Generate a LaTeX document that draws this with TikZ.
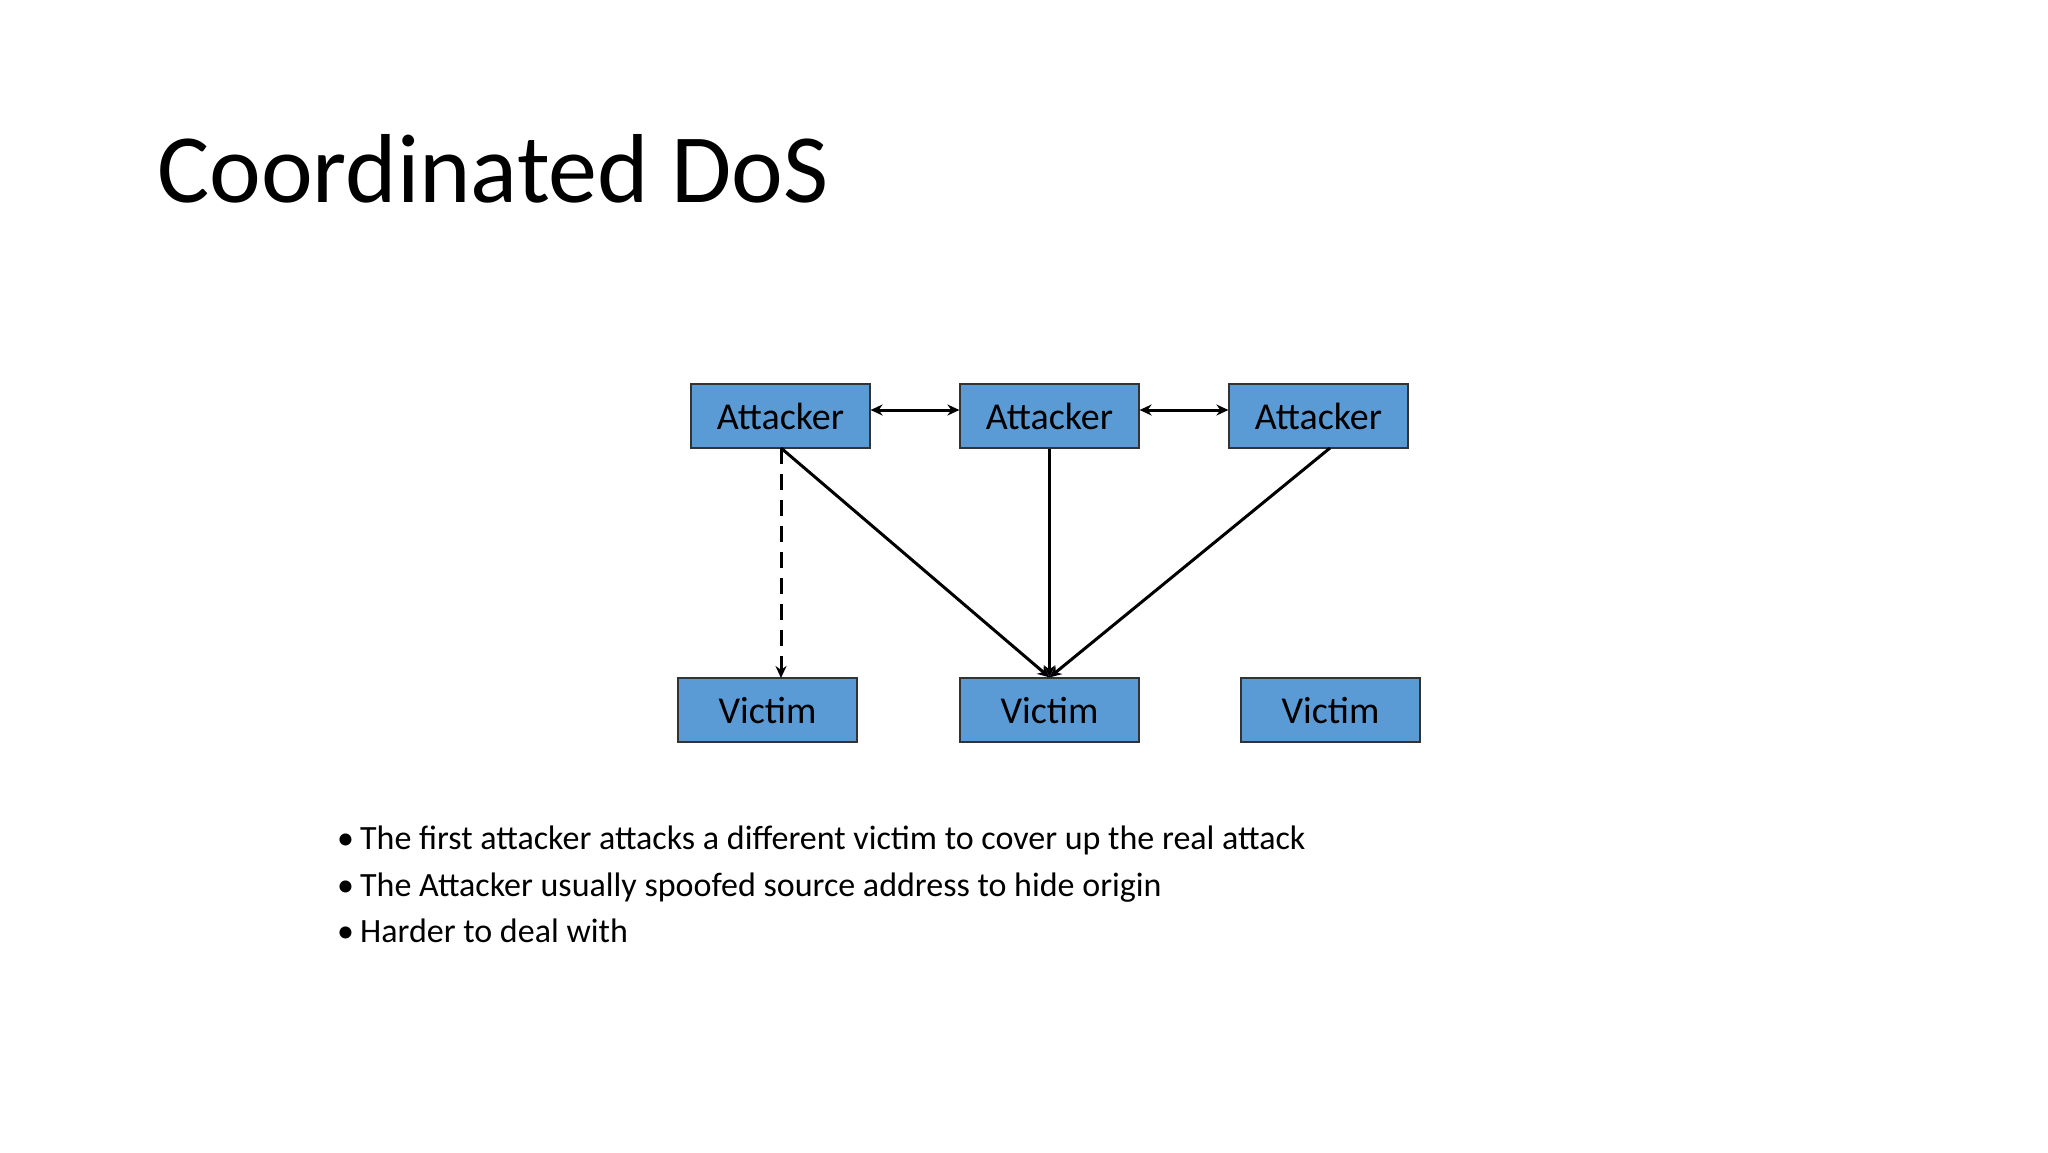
\documentclass[tikz,border=0pt]{standalone}
\usepackage{fontspec}
\setmainfont{Carlito}
\usetikzlibrary{arrows.meta}
\begin{document}
\begin{tikzpicture}[x=1pt,y=-1pt,
  box/.style={draw=black!80,line width=1.2pt,fill={rgb,255:red,91;green,155;blue,213},minimum width=179pt,minimum height=64pt,inner sep=0pt,font=\fontsize{38}{40}\selectfont},
  conn/.style={line width=3pt,-{Stealth[length=12pt,width=11pt]}},
  bullet/.style={anchor=base west,font=\fontsize{34}{40}\selectfont,inner sep=0pt}]
\useasboundingbox (0,0) rectangle (2048,1152);
\fill[white] (0,0) rectangle (2048,1152);
\node[anchor=base west,inner sep=0pt,font=\fontsize{98}{110}\selectfont] (title) at (157,202) {Coordinated DoS};
\node[box] (a1) at (780.5,416) {Attacker};
\node[box] (a2) at (1049.5,416) {Attacker};
\node[box] (a3) at (1318.5,416) {Attacker};
\node[box] (v1) at (767.5,710) {Victim};
\node[box] (v2) at (1049.5,710) {Victim};
\node[box] (v3) at (1330.5,710) {Victim};
\coordinate (a1b) at (781,448);
\coordinate (v1t) at (781,678);
\coordinate (a3b) at (1330,448);
\draw[line width=3pt,{Stealth[length=12pt,width=11pt]}-{Stealth[length=12pt,width=11pt]}] ([yshift=6pt]a1.east) -- ([yshift=6pt]a2.west);
\draw[line width=3pt,{Stealth[length=12pt,width=11pt]}-{Stealth[length=12pt,width=11pt]}] ([yshift=6pt]a2.east) -- ([yshift=6pt]a3.west);
\draw[conn,dash pattern=on 16pt off 10pt] (a1b) -- (v1t);
\draw[conn] (a1b) -- (v2.north);
\draw[conn] (a2.south) -- (v2.north);
\draw[conn] (a3b) -- (v2.north);
\node[bullet] (b1) at (337,849) {•\hspace{6pt}The first attacker attacks a different victim to cover up the real attack};
\node[bullet] (b2) at (337,896) {•\hspace{6pt}The Attacker usually spoofed source address to hide origin};
\node[bullet] (b3) at (337,942) {•\hspace{6pt}Harder to deal with};
\end{tikzpicture}
\end{document}
